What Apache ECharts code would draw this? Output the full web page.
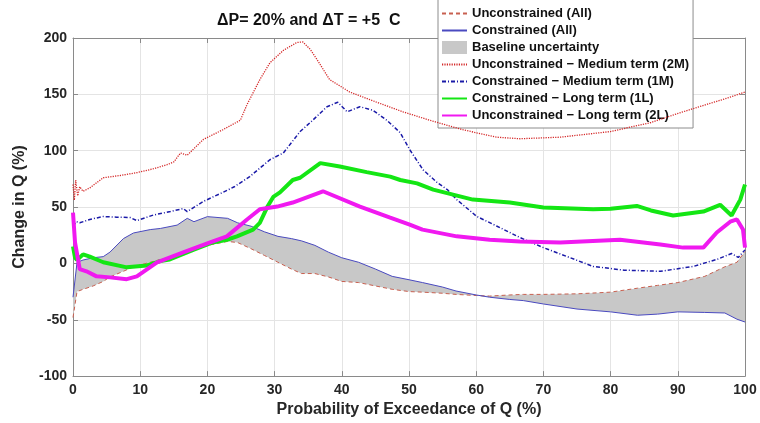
<!DOCTYPE html>
<html>
<head>
<meta charset="utf-8">
<script src="https://cdn.jsdelivr.net/npm/echarts@6/dist/echarts.min.js"></script>
<style>html,body{margin:0;padding:0;background:#fff}#c{width:760px;height:423px}</style>
</head>
<body>
<div id="c"></div>
<script>
// ---- data ----
const xTicks = [0,10,20,30,40,50,60,70,80,90,100];
const yTicks = [-100,-50,0,50,100,150,200];

// common x grid for the two "All" curves (edges of the baseline band)
const xBand = [0,0.6,1.5,3,4.5,5.5,7.5,9,11.5,13,15.5,17,18,20,23,24.5,26.5,28.5,30.5,32.5,34,36,38,40,42.5,45,47.5,50,52,55,57,60,62,65,67,70,75,80,84,87,90,94,97,98.8,100];
const constrainedAll = [-30,1,3,5,6,10,22,27,30,31,34,40,37,41.5,40,36,33,28,24,22,20,16,10,5,1,-5,-11.5,-14.5,-17,-21,-24.5,-28,-30,-32,-33,-36,-40.5,-43,-46,-45,-43,-43.5,-44,-49.5,-52];
const unconstrainedAll = [-48,-25,-23,-20,-16,-12,-7,-3,1,3.5,7,10,12,16,19.5,18.5,13,7,1,-5,-9,-9,-12,-16,-17,-20,-23,-25,-25.5,-26.5,-27.5,-28.5,-29,-28,-27.5,-27.5,-27,-25.5,-22,-19.5,-17,-11.5,-3,1,10.5];

// Unconstrained - Medium term (2M)
const x2M = [0,0.2,0.4,0.7,1,1.5,2.5,4.5,7,9.5,12,14,15,16,17,19.4,22.3,24.9,25.9,27.8,29.3,31.3,33.3,34.2,35.3,36.3,38.2,41.2,45.2,49.1,53.1,58,63,66.5,72.5,80,86,90.3,94.8,97,99,100];
const y2M = [70,56,74,60,68,64,67,76,78,80.5,84,87.6,90,98,96,110,118.6,127,141,163,178,189,196,196.5,190,181,163,152,143,134.5,127,118.6,112,110.6,112,117,125,133.6,142,146,150,152];

// Constrained - Medium term (1M)
const x1M = [0,0.5,1,2.5,4.5,6.5,8.5,9.5,12,14.5,16.4,17,19.4,22.3,24,26.3,29.3,31.3,33.8,35.3,37.8,39.4,40.8,42.7,44.6,46.7,48.7,50.1,52.1,54.2,55.7,57.1,60.1,63.1,66.5,70,74,77.4,82,87.4,92.3,95.8,98,99,100];
const y1M = [33,37,36,39,41.6,41,40.7,38,43,46,48.7,46,55,63,68,77,92,98,117,125,139,143,134.5,139,136,127,116,101,83,71.7,65.5,56.6,41.6,33,23,14,5,-2.7,-6,-7,-2.7,3.5,8.8,5.3,12];

// Constrained - Long term (1L)
const x1L = [0,0.3,0.6,1.5,2.5,4.5,8,11,13,14.4,17.9,20.8,22.9,24.4,26.8,27.8,28.9,29.8,30.8,32.7,33.8,36.8,39.7,43.7,47.2,48.7,51.2,53.6,59.5,65,70,77.4,80,83.9,86,89.3,93.8,96.3,98,99.3,100];
const y1L = [15,5,3,8,6,1,-3.5,-1.8,2,3.5,12,18.6,21,24,30,36,50,59,63,74,76,89,86,81,77,74,71,65.5,56.6,54,49.6,48,48.5,51,47,42.5,46,52,42.5,56.6,70];

// Unconstrained - Long term (2L)
const x2L = [0,0.3,1,2,3.5,5.5,8,9.5,12.5,16.4,20.4,22.9,25.9,27.8,30.4,32.7,37.2,42.7,47.2,50.1,52,57.1,62,66.5,72.5,81.4,87.4,90.8,93.8,95.8,97.8,98.8,99.7,100];
const y2L = [45,18.6,-5,-7,-11.5,-12.4,-14,-11.5,1,9.7,18.6,24,39,48,50.4,54,64,50.4,40.7,34.5,30,24,21,19.5,18.6,21,16.8,14,14,27.4,37,39,30,14];

const names = {
  UA: 'Unconstrained (All)',
  CA: 'Constrained (All)',
  BU: 'Baseline uncertainty',
  M2: 'Unconstrained \u2212 Medium term (2M)',
  M1: 'Constrained \u2212 Medium term (1M)',
  L1: 'Constrained \u2212 Long term (1L)',
  L2: 'Unconstrained \u2212 Long term (2L)'
};
const titleText = '\u0394P= 20% and \u0394T = +5  C';
const xName = 'Probability of Exceedance of Q (%)';
const yName = 'Change in Q (%)';

// ---- build series data ----
const pair = (xs, ys) => xs.map((x, i) => [x, ys[i]]);
const bandRows = xBand.map((x, i) => [x,
  Math.min(constrainedAll[i], unconstrainedAll[i]),
  Math.max(constrainedAll[i], unconstrainedAll[i])]);

const font = '"Liberation Sans", Arial, sans-serif';
const axisCol = '#8a8a8a';
const labelStyle = {fontFamily: font, fontWeight: 'bold', fontSize: 14, color: '#262626'};
const nameStyle = {fontFamily: font, fontWeight: 'bold', fontSize: 16, color: '#262626'};
const hidden = {opacity: 0};

const chart = echarts.init(document.getElementById('c'), null, {renderer: 'canvas'});
chart.setOption({
  animation: false,
  backgroundColor: '#fff',
  title: {
    text: titleText,
    left: 212, top: 8,
    textStyle: {fontFamily: font, fontWeight: 'bold', fontSize: 16, color: '#111'}
  },
  legend: {
    orient: 'vertical',
    left: 438, top: -2,
    padding: [9, 4, 6, 3],
    itemGap: 4, itemWidth: 25, itemHeight: 13,
    backgroundColor: '#fff',
    borderColor: '#8c8c8c', borderWidth: 1,
    itemStyle: hidden,
    textStyle: {fontFamily: font, fontWeight: 'bold', fontSize: 13, color: '#111'},
    data: [
      {name: names.UA},
      {name: names.CA},
      {name: names.BU, icon: 'rect', itemStyle: {color: '#c8c8c8', opacity: 1}},
      {name: names.M2},
      {name: names.M1},
      {name: names.L1, lineStyle: {width: 2}},
      {name: names.L2, lineStyle: {width: 2}}
    ]
  },
  grid: {left: 73, right: 15, top: 38, bottom: 46},
  xAxis: [{
    type: 'value', min: 0, max: 100, interval: 10,
    name: xName, nameLocation: 'middle', nameGap: 25, nameTextStyle: nameStyle,
    axisLine: {show: true, onZero: false, lineStyle: {color: axisCol}},
    axisTick: {show: true, inside: true, length: 5, lineStyle: {color: axisCol}},
    axisLabel: Object.assign({margin: 7}, labelStyle),
    splitLine: {show: true, lineStyle: {color: '#e4e4e4'}}
  }, {
    type: 'value', min: 0, max: 100, interval: 10, position: 'top',
    axisLine: {show: true, onZero: false, lineStyle: {color: axisCol}},
    axisTick: {show: true, inside: true, length: 5, lineStyle: {color: axisCol}},
    axisLabel: {show: false}, splitLine: {show: false}
  }],
  yAxis: [{
    type: 'value', min: -100, max: 200, interval: 50,
    name: yName, nameLocation: 'middle', nameGap: 34, nameTextStyle: nameStyle,
    axisLine: {show: true, onZero: false, lineStyle: {color: axisCol}},
    axisTick: {show: true, inside: true, length: 5, lineStyle: {color: axisCol}},
    axisLabel: Object.assign({margin: 6}, labelStyle),
    splitLine: {show: true, lineStyle: {color: '#e4e4e4'}}
  }, {
    type: 'value', min: -100, max: 200, interval: 50, position: 'right',
    axisLine: {show: true, onZero: false, lineStyle: {color: axisCol}},
    axisTick: {show: true, inside: true, length: 5, lineStyle: {color: axisCol}},
    axisLabel: {show: false}, splitLine: {show: false}
  }],
  series: [
    {
      name: names.BU, type: 'custom', data: bandRows,
      encode: {x: 0, y: [1, 2]},
      itemStyle: {color: '#c8c8c8'}, silent: true, z: 1,
      renderItem: function (params, api) {
        if (params.dataIndex !== 0) return null;
        const upper = bandRows.map(r => api.coord([r[0], r[2]]));
        const lower = bandRows.map(r => api.coord([r[0], r[1]])).reverse();
        return {type: 'polygon', shape: {points: upper.concat(lower)},
                style: {fill: '#c8c8c8', stroke: null}};
      }
    },
    {
      name: names.UA, type: 'line', data: pair(xBand, unconstrainedAll),
      symbol: 'none', itemStyle: {color: '#d23c3c'},
      lineStyle: {color: '#c86050', width: 1, type: [4, 3]}, z: 3
    },
    {
      name: names.CA, type: 'line', data: pair(xBand, constrainedAll),
      symbol: 'none', itemStyle: {color: '#2a2ad0'},
      lineStyle: {color: '#4a4ac0', width: 1}, z: 3
    },
    {
      name: names.M2, type: 'line', data: pair(x2M, y2M),
      symbol: 'none', itemStyle: {color: '#d42828'},
      lineStyle: {color: '#d42828', width: 1.3, type: [1.2, 1.2]}, z: 4
    },
    {
      name: names.M1, type: 'line', data: pair(x1M, y1M),
      symbol: 'none', itemStyle: {color: '#1a1aa8'},
      lineStyle: {color: '#1a1aa8', width: 1.5, type: [4, 2, 1, 2]}, z: 4
    },
    {
      name: names.L1, type: 'line', data: pair(x1L, y1L),
      symbol: 'none', itemStyle: {color: '#14e614'},
      lineStyle: {color: '#14e614', width: 4}, z: 5
    },
    {
      name: names.L2, type: 'line', data: pair(x2L, y2L),
      symbol: 'none', itemStyle: {color: '#f019f0'},
      lineStyle: {color: '#f019f0', width: 4}, z: 6
    }
  ]
});
</script>
</body>
</html>
